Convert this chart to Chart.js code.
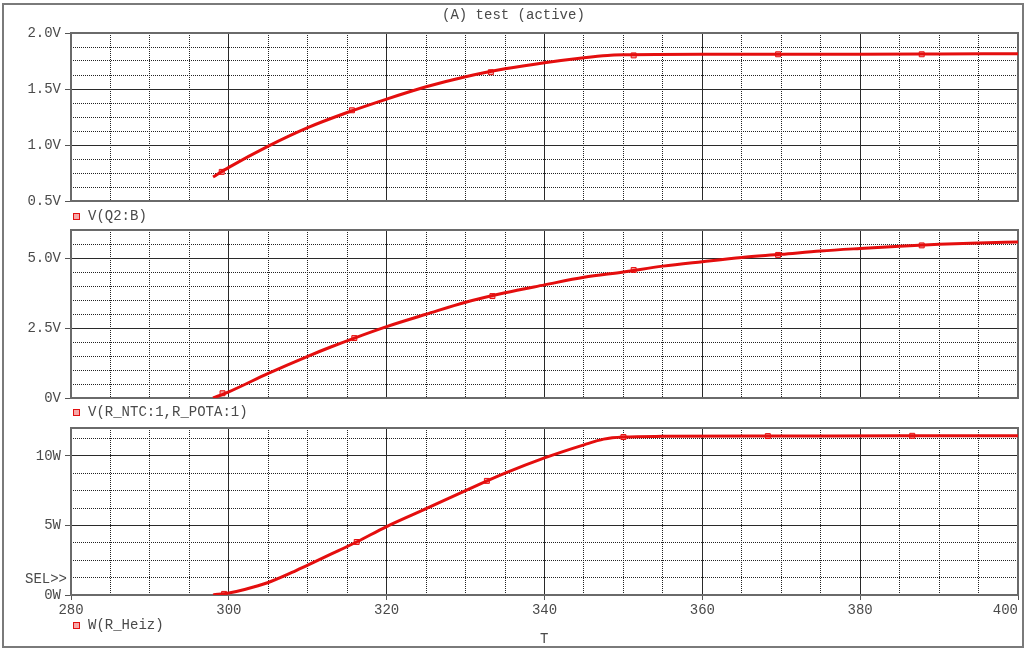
<!DOCTYPE html>
<html>
<head>
<meta charset="utf-8">
<script src="https://cdn.jsdelivr.net/npm/chart.js@4.4.0/dist/chart.umd.min.js"></script>
<style>
  body { margin: 0; background: #fff; }
  #wrap { position: relative; width: 1026px; height: 650px; overflow: hidden;
          font-family: "Liberation Mono", "DejaVu Sans Mono", monospace; font-size: 14px; color: #4a4a4a; }
  canvas { position: absolute; left: 0; top: 0; }
  .txt { position: absolute; line-height: 16px; white-space: pre; }
  .sq { position: absolute; width: 5px; height: 5px; border: 1px solid #e01010; background: #f7a8a8; }
  #frame { position: absolute; left: 2px; top: 3px; width: 1018px; height: 641px; border: 2px solid #7a7a7a; }
</style>
</head>
<body>
<div id="wrap">
  <div id="frame"></div>
  <canvas id="c1" width="1026" height="650"></canvas>
  <canvas id="c2" width="1026" height="650"></canvas>
  <canvas id="c3" width="1026" height="650"></canvas>

  <div class="txt" style="left:442px;top:7px;">(A) test (active)</div>

  <div class="sq" style="left:73px;top:213px;"></div>
  <div class="txt" style="left:88px;top:208px;">V(Q2:B)</div>

  <div class="sq" style="left:73px;top:409px;"></div>
  <div class="txt" style="left:88px;top:404px;">V(R_NTC:1,R_POTA:1)</div>

  <div class="txt" style="left:25px;top:571px;">SEL&gt;&gt;</div>

  <div class="sq" style="left:73px;top:622px;"></div>
  <div class="txt" style="left:88px;top:617px;">W(R_Heiz)</div>

  <div class="txt" style="left:540px;top:631px;">T</div>
</div>

<script>
// x axis (temperature T)
const xTicks = [280, 300, 320, 340, 360, 380, 400];
const xTickLabels = ['280', '300', '320', '340', '360', '380', '400'];

// V(Q2:B)
const q2Temps = [298, 300, 305, 310, 315, 320, 325, 330, 335, 340, 345, 348, 350, 360, 370, 380, 390, 400];
const q2Volts = [0.715, 0.80, 0.99, 1.155, 1.29, 1.41, 1.52, 1.61, 1.68, 1.735, 1.78, 1.80, 1.805, 1.81, 1.81, 1.81, 1.812, 1.815];
const q2MarkT = [299.1, 315.6, 333.2, 351.3, 369.6, 387.8];
const q2MarkV = [0.76, 1.31, 1.65, 1.80, 1.81, 1.81];
const q2Ticks = [0.5, 1.0, 1.5, 2.0];
const q2TickLabels = ['0.5V', '1.0V', '1.5V', '2.0V'];

// V(R_NTC:1,R_POTA:1)
const ntcTemps = [298, 300, 305, 310, 313, 316, 320, 325, 330, 335, 340, 345, 350, 355, 360, 365, 370, 375, 380, 385, 390, 395, 400];
const ntcVolts = [0, 0.22, 0.88, 1.49, 1.83, 2.15, 2.55, 2.99, 3.42, 3.76, 4.04, 4.31, 4.5, 4.71, 4.87, 5.02, 5.13, 5.25, 5.34, 5.42, 5.49, 5.54, 5.57];
const ntcMarkT = [299.2, 315.9, 333.4, 351.3, 369.6, 387.8];
const ntcMarkV = [0.17, 2.14, 3.64, 4.57, 5.11, 5.45];
const ntcTicks = [0, 2.5, 5.0];
const ntcTickLabels = ['0V', '2.5V', '5.0V'];

// W(R_Heiz)
const heizTemps = [298, 300, 302, 305, 308, 310, 313, 316.2, 320, 325, 330, 335, 340, 345, 347.5, 350, 355, 370, 385, 400];
const heizWatts = [0, 0.15, 0.4, 0.9, 1.62, 2.15, 2.95, 3.81, 4.92, 6.2, 7.5, 8.75, 9.85, 10.79, 11.2, 11.35, 11.4, 11.42, 11.44, 11.44];
const heizMarkT = [299.4, 316.2, 332.7, 350, 368.3, 386.6];
const heizMarkW = [0.08, 3.81, 8.2, 11.35, 11.42, 11.44];
const heizTicks = [0, 5, 10];
const heizTickLabels = ['0W', '5W', '10W'];

const red = 'rgb(228,14,14)';
const monoFont = { family: '"Liberation Mono", "DejaVu Sans Mono", monospace', size: 14 };

function steps(from, to, step) {
    let out = [];
    for (let v = from; v <= to + 1e-9; v += step) out.push({ value: +v.toFixed(4) });
    return out;
}

const plotFrame = {
    id: 'plotFrame',
    beforeDraw(chart) {
        // last x label ("400") sits right-aligned on its tick like in PSpice
        const items = chart.scales.x.getLabelItems();
        if (items.length) items[items.length - 1].options.textAlign = 'right';
    },
    beforeDatasetsDraw(chart) {
        const a = chart.chartArea;
        const ctx = chart.ctx;
        ctx.save();
        ctx.strokeStyle = '#6a6a6a';
        ctx.lineWidth = 2;
        ctx.strokeRect(a.left, a.top, a.right - a.left, a.bottom - a.top);
        ctx.restore();
    }
};

function panel(id, cfg) {
    new Chart(document.getElementById(id), {
        type: 'line',
        data: {
            datasets: [{
                data: cfg.temps.map((t, i) => ({ x: t, y: cfg.values[i] })),
                borderColor: red,
                borderWidth: 3,
                pointRadius: 0,
                cubicInterpolationMode: 'monotone',
                fill: false
            }, {
                data: cfg.markT.map((t, i) => ({ x: t, y: cfg.markV[i] })),
                showLine: false,
                pointStyle: 'rect',
                pointRadius: 3.5,
                pointBorderColor: red,
                pointBackgroundColor: '#f7a8a8',
                pointBorderWidth: 1
            }]
        },
        options: {
            responsive: false,
            animation: false,
            events: [],
            layout: { autoPadding: false, padding: { top: cfg.top, left: 0, right: 8, bottom: 0 } },
            plugins: { legend: { display: false }, tooltip: { enabled: false } },
            scales: {
                xm: {
                    type: 'linear', position: 'bottom', min: 280, max: 400,
                    afterBuildTicks: s => { s.ticks = steps(280, 400, 5); },
                    ticks: { display: false },
                    grid: { color: '#222', lineWidth: 1, drawTicks: false },
                    border: { display: false, dash: [1, 1] },
                    afterFit: s => { s.height = 0; }
                },
                ym: {
                    type: 'linear', position: 'left', min: cfg.min, max: cfg.max,
                    afterBuildTicks: s => { s.ticks = steps(cfg.min, cfg.max, cfg.minor); },
                    ticks: { display: false },
                    grid: { color: '#222', lineWidth: 1, drawTicks: false },
                    border: { display: false, dash: [1, 1] },
                    afterFit: s => { s.width = 0; }
                },
                x: {
                    type: 'linear', position: 'bottom', min: 280, max: 400,
                    afterBuildTicks: s => { s.ticks = xTicks.map(v => ({ value: v })); },
                    ticks: {
                        display: cfg.showX, autoSkip: false, maxRotation: 0, padding: 2,
                        color: '#4a4a4a', font: monoFont,
                        callback: v => xTickLabels[xTicks.indexOf(v)]
                    },
                    grid: { color: '#2a2a2a', lineWidth: 1, drawTicks: cfg.showX, tickLength: 5, tickColor: '#555' },
                    border: { display: false },
                    afterFit: s => {
                        s.height = 650 - cfg.bottom;
                        s.paddingLeft = 0;
                        s.paddingRight = 0;
                    }
                },
                y: {
                    type: 'linear', position: 'left', min: cfg.min, max: cfg.max,
                    afterBuildTicks: s => { s.ticks = cfg.ticks.map(v => ({ value: v })); },
                    ticks: {
                        padding: 4, color: '#4a4a4a', font: monoFont,
                        callback: v => cfg.tickLabels[cfg.ticks.indexOf(v)]
                    },
                    grid: { color: '#2a2a2a', lineWidth: 1, tickLength: 6, tickColor: '#555' },
                    border: { display: false },
                    afterFit: s => { s.width = 71; }
                }
            }
        },
        plugins: [plotFrame]
    });
}

panel('c1', { temps: q2Temps, values: q2Volts, markT: q2MarkT, markV: q2MarkV,
    ticks: q2Ticks, tickLabels: q2TickLabels, min: 0.5, max: 2.0, minor: 0.125,
    top: 33, bottom: 201, showX: false });

panel('c2', { temps: ntcTemps, values: ntcVolts, markT: ntcMarkT, markV: ntcMarkV,
    ticks: ntcTicks, tickLabels: ntcTickLabels, min: 0, max: 6, minor: 0.5,
    top: 230, bottom: 398, showX: false });

panel('c3', { temps: heizTemps, values: heizWatts, markT: heizMarkT, markV: heizMarkW,
    ticks: heizTicks, tickLabels: heizTickLabels, min: 0, max: 12, minor: 1.25,
    top: 428, bottom: 595, showX: true });
</script>
</body>
</html>
